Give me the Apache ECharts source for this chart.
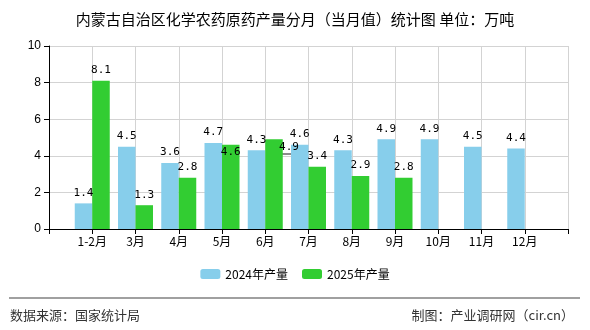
<!DOCTYPE html>
<html><head><meta charset="utf-8">
<script src="https://cdn.jsdelivr.net/npm/echarts@6/dist/echarts.min.js"></script>
<style>html,body{margin:0;padding:0;background:#fff}#c{width:590px;height:330px}</style>
</head><body><div id="c"></div>
<script>
var categories = ['1-2月','3月','4月','5月','6月','7月','8月','9月','10月','11月','12月'];
var values2024 = [1.4, 4.5, 3.6, 4.7, 4.3, 4.6, 4.3, 4.9, 4.9, 4.5, 4.4];
var values2025 = [8.1, 1.3, 2.8, 4.6, 4.9, 3.4, 2.9, 2.8];
var seriesNames = ['2024年产量','2025年产量'];
var yTicks = [0, 2, 4, 6, 8, 10];

// pad: empty slot before first and after last so bars sit on ticks
var axisCats = [''].concat(categories).concat(['']);
function pad(arr){ var r=[null]; for(var i=0;i<categories.length;i++){ r.push(i<arr.length?arr[i]:null);} r.push(null); return r; }

var chart = echarts.init(document.getElementById('c'), null, {renderer:'canvas'});
var lbl = {show:true, position:'top', distance:5, color:'#000', fontSize:11, fontFamily:'"DejaVu Sans Mono", monospace',
  formatter:function(p){return p.value==null?'':p.value.toFixed(1);}};
chart.setOption({
  animation:false,
  title:{text:'内蒙古自治区化学农药原药产量分月（当月值）统计图 单位：万吨', left:'center', top:7,
    textStyle:{fontSize:15, fontWeight:'normal', color:'#000', fontFamily:'"Noto Sans CJK SC"'}},
  grid:{left:49, right:22, top:46, bottom:101, containLabel:false},
  legend:{data:seriesNames, bottom:45, left:'center', itemWidth:20, itemHeight:10, itemGap:14,
    textStyle:{fontSize:12, color:'#000', fontFamily:'"Noto Sans CJK SC"'}},
  xAxis:{type:'category', data:axisCats, boundaryGap:false,
    axisLine:{lineStyle:{color:'#000', width:1}},
    axisTick:{show:true, lineStyle:{color:'#000'}, length:5},
    axisLabel:{color:'#000', fontSize:12, fontFamily:'"Noto Sans CJK SC"', interval:0, margin:6},
    splitLine:{show:true, lineStyle:{color:'#d3d3d3'}}},
  yAxis:{type:'value', min:0, max:10, interval:2,
    axisLine:{show:true, lineStyle:{color:'#000'}},
    axisTick:{show:true, length:5, lineStyle:{color:'#000'}},
    axisLabel:{color:'#000', fontSize:12, margin:8},
    splitLine:{show:true, lineStyle:{color:'#d3d3d3'}}},
  series:[
    {name:seriesNames[0], type:'bar', data:pad(values2024), barWidth:17.5, barGap:'0%', itemStyle:{color:'#87ceeb'}, label:lbl},
    {name:seriesNames[1], type:'bar', data:pad(values2025), barWidth:17.5, barGap:'0%', itemStyle:{color:'#32cd32'}, label:lbl,
     labelLayout:function(p){
       if(p.dataIndex===4) return {dy:18};
       if(p.dataIndex===5) return {dx:15, dy:18};
       return {};
     }}
  ],
  graphic:[
    {type:'line', shape:{x1:9, y1:298, x2:580, y2:298}, style:{stroke:'#808080', lineWidth:1.5}},
    {type:'line', shape:{x1:280, y1:154, x2:302, y2:154}, style:{stroke:'#666', lineWidth:1.5}},
    {type:'text', left:10, top:309, style:{text:'数据来源：国家统计局', fontSize:13, fill:'#333', fontFamily:'"Noto Sans CJK SC"'}},
    {type:'text', right:16, top:309, style:{text:'制图：产业调研网（cir.cn）', fontSize:13, fill:'#333', fontFamily:'"Noto Sans CJK SC"'}}
  ]
});
</script></body></html>
